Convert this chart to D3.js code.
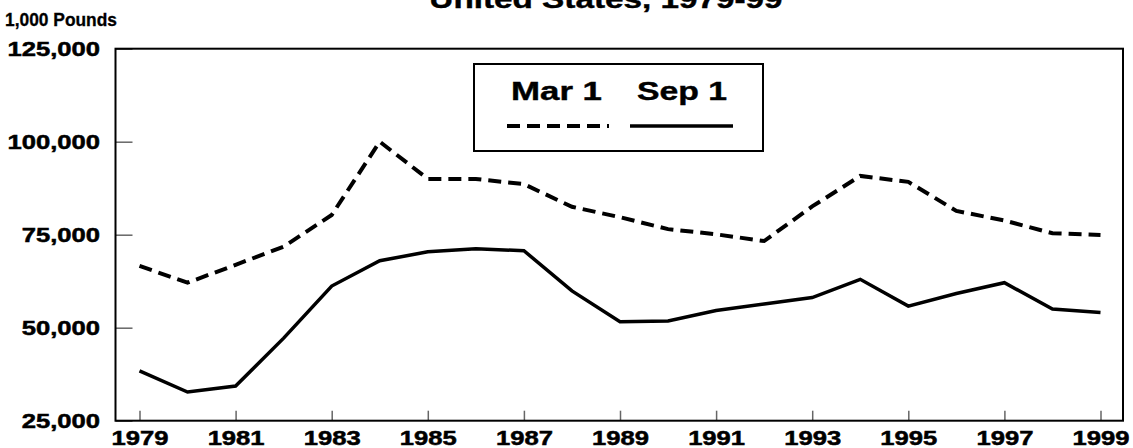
<!DOCTYPE html>
<html>
<head>
<meta charset="utf-8">
<script src="https://cdn.jsdelivr.net/npm/d3@7"></script>
<style>
  html, body { margin: 0; padding: 0; background: #fff; }
  svg { display: block; }
  text { font-family: "Liberation Sans", Arial, sans-serif; font-weight: bold; fill: #000; }
</style>
</head>
<body>
<svg id="chart" width="1133" height="448"></svg>
<script>
const years = [1979,1980,1981,1982,1983,1984,1985,1986,1987,1988,1989,1990,1991,1992,1993,1994,1995,1996,1997,1998,1999];
const mar1 = [66600,62100,66900,71800,80300,100000,90000,90000,88600,82500,79700,76500,75100,73300,82600,90800,89200,81400,78800,75400,74900];
const sep1 = [38400,32700,34300,47200,61200,68000,70400,71200,70700,59900,51600,51800,54600,56400,58100,63000,55800,59200,62100,55000,54100];
const yTicks = [25000,50000,75000,100000,125000];
const xTicks = [1979,1981,1983,1985,1987,1989,1991,1993,1995,1997,1999];
const seriesNames = ["Mar 1","Sep 1"];
const titleText = "United States, 1979-99";
const unitText = "1,000 Pounds";

const svg = d3.select("#chart");
const box = {left: 115.5, top: 48.7, right: 1123, bottom: 420.7};

const x = d3.scaleLinear().domain([1979,1999]).range([139.5,1100.5]);
const y = d3.scaleLinear().domain([25000,125000]).range([box.bottom, box.top]);

const stretch = (sel, f) => sel.each(function(){
  const w = this.getComputedTextLength();
  d3.select(this).attr("textLength", w*f).attr("lengthAdjust","spacingAndGlyphs");
});

// title (cut off at top, as in the reference)
svg.append("text").attr("x",606).attr("y",8).attr("text-anchor","middle")
  .style("font-size","26px").style("stroke","#000").style("stroke-width","0.4px")
  .text(titleText).call(stretch,1.28);

svg.append("text").attr("x",5).attr("y",26)
  .style("font-size","18px").style("stroke","#000").style("stroke-width","0.3px")
  .attr("textLength",112).attr("lengthAdjust","spacingAndGlyphs")
  .text(unitText);

// y axis
const gy = svg.append("g").attr("transform",`translate(${box.left},0)`)
  .call(d3.axisLeft(y).tickValues(yTicks).tickSize(-17).tickPadding(15.5)
        .tickFormat(d3.format(",")));
gy.select(".domain").remove();
gy.selectAll(".tick line").attr("stroke","#666").attr("stroke-width",1.5);
gy.selectAll(".tick text").style("font-size","20px").style("font-family",null)
  .style("stroke","#000").style("stroke-width","0.5px").call(stretch,1.28);

// x axis
const gx = svg.append("g").attr("transform",`translate(0,${box.bottom})`)
  .call(d3.axisBottom(x).tickValues(xTicks).tickSize(-10).tickPadding(10)
        .tickFormat(d3.format("d")));
gx.select(".domain").remove();
gx.selectAll(".tick line").attr("stroke","#666").attr("stroke-width",1.5);
gx.selectAll(".tick text").style("font-size","20px").style("font-family",null)
  .style("stroke","#000").style("stroke-width","0.5px").call(stretch,1.28);

// plot box
svg.append("rect").attr("x",box.left).attr("y",box.top)
  .attr("width",box.right-box.left).attr("height",box.bottom-box.top)
  .attr("fill","none").attr("stroke","#000").attr("stroke-width",2);

const line = d3.line().x((d,i)=>x(years[i])).y(d=>y(d));
svg.append("path").datum(mar1).attr("d",line).attr("fill","none")
  .attr("stroke","#000").attr("stroke-width",4).attr("stroke-dasharray","13,7");
svg.append("path").datum(sep1).attr("d",line).attr("fill","none")
  .attr("stroke","#000").attr("stroke-width",3.5);

// legend
const lg = svg.append("g");
lg.append("rect").attr("x",474).attr("y",64).attr("width",289).attr("height",87)
  .attr("fill","#fff").attr("stroke","#000").attr("stroke-width",2);
lg.append("text").attr("x",511).attr("y",100).style("font-size","25px")
  .style("stroke","#000").style("stroke-width","0.4px")
  .attr("textLength",91).attr("lengthAdjust","spacingAndGlyphs").text(seriesNames[0]);
lg.append("text").attr("x",637).attr("y",100).style("font-size","25px")
  .style("stroke","#000").style("stroke-width","0.4px")
  .attr("textLength",90).attr("lengthAdjust","spacingAndGlyphs").text(seriesNames[1]);
lg.append("line").attr("x1",507).attr("x2",609).attr("y1",126).attr("y2",126)
  .attr("stroke","#000").attr("stroke-width",4).attr("stroke-dasharray","13,7");
lg.append("line").attr("x1",630).attr("x2",733).attr("y1",126).attr("y2",126)
  .attr("stroke","#000").attr("stroke-width",3.5);
</script>
</body>
</html>
